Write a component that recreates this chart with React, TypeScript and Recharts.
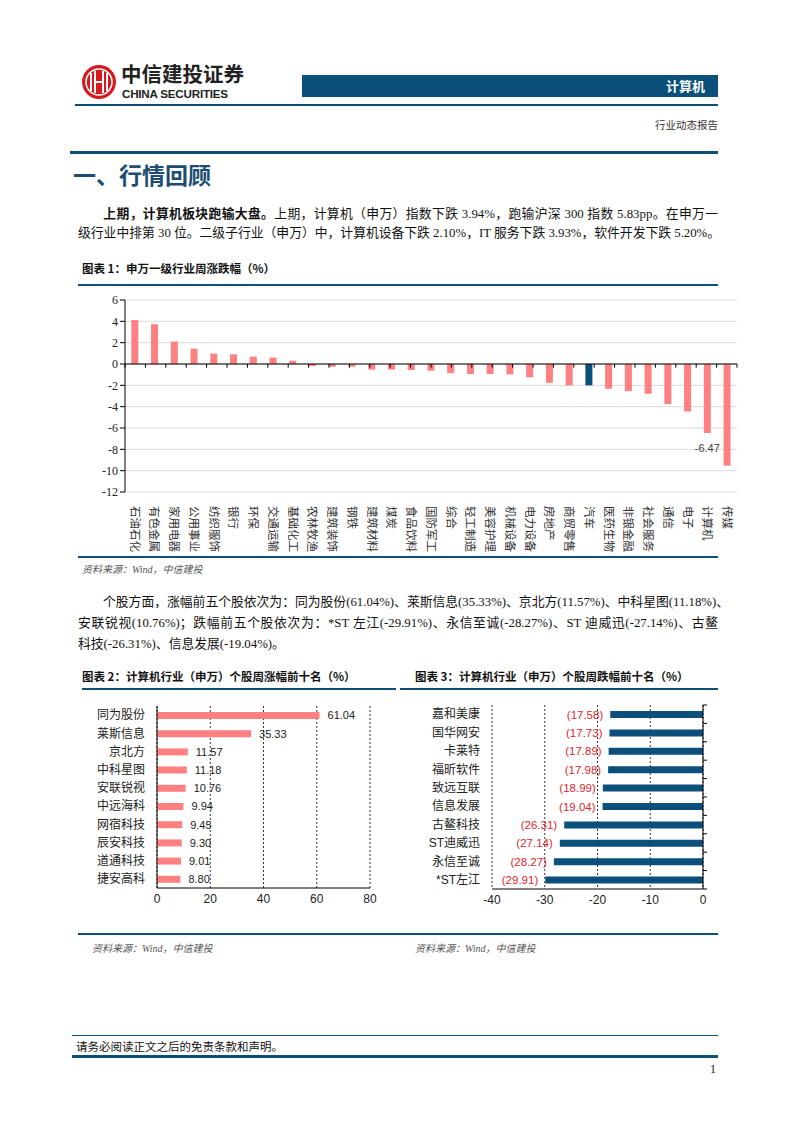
import React from 'react';
import { BarChart, Bar, XAxis, YAxis, CartesianGrid, ReferenceLine, LabelList, Cell } from 'recharts';

// 图表1：申万一级行业周涨跌幅
const industries = ['石油石化', '有色金属', '家用电器', '公用事业', '纺织服饰', '银行', '环保', '交通运输', '基础化工', '农林牧渔', '建筑装饰', '钢铁', '建筑材料', '煤炭', '食品饮料', '国防军工', '综合', '轻工制造', '美容护理', '机械设备', '电力设备', '房地产', '商贸零售', '汽车', '医药生物', '非银金融', '社会服务', '通信', '电子', '计算机', '传媒'];
const industryChange = [4.12, 3.73, 2.1, 1.44, 0.97, 0.91, 0.69, 0.6, 0.31, -0.19, -0.25, -0.25, -0.53, -0.53, -0.56, -0.63, -0.85, -0.94, -0.94, -0.97, -1.25, -1.76, -2.0, -2.0, -2.32, -2.54, -2.79, -3.76, -4.45, -6.47, -9.53];
const industryTicks = [6, 4, 2, 0, -2, -4, -6, -8, -10, -12];
const highlighted = '汽车';
const labelled = '计算机';

// 图表2：涨幅前十
const gainers = ['同为股份', '莱斯信息', '京北方', '中科星图', '安联锐视', '中远海科', '网宿科技', '辰安科技', '道通科技', '捷安高科'];
const gains = [61.04, 35.33, 11.57, 11.18, 10.76, 9.94, 9.45, 9.3, 9.01, 8.8];
const gainTicks = [0, 20, 40, 60, 80];

// 图表3：跌幅前十
const losers = ['嘉和美康', '国华网安', '卡莱特', '福昕软件', '致远互联', '信息发展', '古鳌科技', 'ST迪威迅', '永信至诚', '*ST左江'];
const losses = [-17.58, -17.73, -17.89, -17.98, -18.99, -19.04, -26.31, -27.14, -28.27, -29.91];
const lossTicks = [-40, -30, -20, -10, 0];

const industryData = industries.map((name, i) => ({ name, value: industryChange[i] }));
const gainData = gainers.map((name, i) => ({ name, value: gains[i] }));
const lossData = losers.map((name, i) => ({ name, value: losses[i] }));

const BLUE = '#0B4F7A';
const PINK = '#FF8080';
const SANS = '"Liberation Sans", "Noto Sans CJK SC", sans-serif';
const SERIF = '"Liberation Serif", "Noto Sans CJK SC", serif';
const CJK = '"Noto Sans CJK SC", sans-serif';

const abs = (l: number, t: number, extra: React.CSSProperties = {}): React.CSSProperties => ({ position: 'absolute', left: l, top: t, ...extra });

const IndustryTick = ({ x, y, payload }: any) => (
  <text
    x={x}
    y={y + 6}
    dy="0.36em"
    transform={`rotate(90, ${x}, ${y + 6})`}
    textAnchor="start"
    fontSize={11.5}
    fontFamily={CJK}
    fill="#333"
  >
    {payload.value}
  </text>
);

// short marks between the categories on the right-hand axis of chart 3
const BoundaryTick = ({ x, y, payload, index }: any) => {
  const half = payload.offset ?? 0;
  return (
    <g>
      <line x1={x} x2={x + 4} y1={y - half} y2={y - half} stroke="#000" />
      {index === losers.length - 1 && <line x1={x} x2={x + 4} y1={y + half} y2={y + half} stroke="#000" />}
    </g>
  );
};

const MarkedLabel = ({ x, y, width, height, value, index }: any) => {
  if (industries[index] !== labelled) return null;
  const bottom = Math.max(y, y + height);
  return (
    <text x={x + width / 2} y={bottom + 19} textAnchor="middle" fontSize={11} fontFamily={SANS} fill="#404040">
      {Number(value).toFixed(2)}
    </text>
  );
};

const LossLabel = ({ x, y, width, height, value }: any) => {
  const left = Math.min(x, x + width);
  return (
    <text x={left - 7} y={y + height / 2} dy="0.36em" textAnchor="end" fontSize={11.5} fontFamily={SANS} fill="#E2262B">
      ({Math.abs(value).toFixed(2)})
    </text>
  );
};

const boundaries = (n: number) => Array.from({ length: n + 1 }, (_, i) => i);

const Logo = () => (
  <svg width={36} height={36} viewBox="0 0 36 36" style={abs(81, 64)}>
    <circle cx={18} cy={18} r={17} fill="#D7191F" />
    <circle cx={18} cy={18} r={13} fill="none" stroke="#fff" strokeWidth={1.6} />
    <rect x={9} y={9} width={2} height={18} fill="#fff" />
    <rect x={13} y={7} width={2} height={22} fill="#fff" />
    <rect x={21} y={7} width={2} height={22} fill="#fff" />
    <rect x={25} y={9} width={2} height={18} fill="#fff" />
    <rect x={13} y={17} width={10} height={2} fill="#fff" />
  </svg>
);

const ChartTitle = ({ text, left, top }: { text: string; left: number; top: number }) => (
  <div style={abs(left, top, { fontFamily: CJK, fontWeight: 700, fontSize: 11.5, color: '#111', whiteSpace: 'nowrap' })}>{text}</div>
);

const Source = ({ left, top }: { left: number; top: number }) => (
  <div style={abs(left, top, { fontFamily: SERIF, fontStyle: 'italic', fontSize: 10, color: '#555', whiteSpace: 'nowrap' })}>
    资料来源：Wind，中信建投
  </div>
);

const Line = ({ left, top, width, h = 2, color = BLUE }: any) => (
  <div style={abs(left, top, { width, height: h, background: color })} />
);

const lineStyle: React.CSSProperties = {
  width: 640,
  whiteSpace: 'nowrap',
  textAlign: 'justify',
  textAlignLast: 'justify',
  height: 21,
  lineHeight: '21px',
};

export default function App() {
  return (
    <div style={{ position: 'absolute', left: 0, top: 0, width: 793, height: 1122, background: '#fff', fontFamily: SERIF, color: '#111' }}>
      {/* header */}
      <Logo />
      <div style={abs(121, 63, { fontFamily: CJK, fontWeight: 700, fontSize: 20.5, color: '#222', whiteSpace: 'nowrap', lineHeight: '20px', height: 20 })}>中信建投证券</div>
      <div style={abs(122, 88, { fontFamily: SANS, fontWeight: 700, fontSize: 11.6, color: '#222', whiteSpace: 'nowrap', lineHeight: '11px', letterSpacing: -0.2 })}>CHINA SECURITIES</div>
      <div style={abs(302, 75, { width: 416, height: 22, background: BLUE })} />
      <div style={abs(666, 77, { fontFamily: CJK, fontWeight: 700, fontSize: 13, color: '#fff', lineHeight: '18px' })}>计算机</div>
      <Line left={75} top={104} width={643} h={1.5} />
      <div style={abs(655, 118, { fontFamily: CJK, fontSize: 10.5, color: '#333', lineHeight: '14px' })}>行业动态报告</div>

      {/* section */}
      <Line left={70} top={151} width={648} h={2.5} />
      <div style={abs(73, 159, { fontFamily: CJK, fontWeight: 700, fontSize: 23, color: '#1B4D72', lineHeight: '30px', whiteSpace: 'nowrap' })}>一、行情回顾</div>
      <div style={abs(78, 202, { fontSize: 12.8 })}>
        <div style={lineStyle}>
          <span style={{ display: 'inline-block', width: 25 }} />
          <b style={{ fontFamily: CJK }}>上期，计算机板块跑输大盘。</b>上期，计算机（申万）指数下跌 3.94%，跑输沪深 300 指数 5.83pp。在申万一
        </div>
        <div style={lineStyle}>级行业中排第 30 位。二级子行业（申万）中，计算机设备下跌 2.10%，IT 服务下跌 3.93%，软件开发下跌 5.20%。</div>
      </div>

      {/* chart 1 */}
      <ChartTitle text="图表 1：申万一级行业周涨跌幅（%）" left={82} top={260} />
      <Line left={78} top={284} width={640} h={2} />
      <div style={abs(78, 290)}>
        <BarChart width={660} height={262} data={industryData} margin={{ top: 10, right: 1, bottom: 0, left: 0 }} barCategoryGap="32%">
          <CartesianGrid vertical={false} stroke="#D9D9D9" />
          <XAxis dataKey="name" interval={0} axisLine={false} tickLine={false} height={60} tick={<IndustryTick />} />
          <XAxis xAxisId="n" type="number" domain={[0, industries.length]} hide />
          <YAxis
            domain={[-12, 6]}
            ticks={industryTicks}
            width={47}
            axisLine={{ stroke: '#000' }}
            tickLine={{ stroke: '#000' }}
            tickSize={5}
            tick={{ fontSize: 12, fontFamily: SERIF, fill: '#222' }}
            interval={0}
          />
          <Bar dataKey="value" isAnimationActive={false}>
            {industryData.map((d) => (
              <Cell key={d.name} fill={d.name === highlighted ? BLUE : PINK} />
            ))}
            <LabelList dataKey="value" content={<MarkedLabel />} />
          </Bar>
          <ReferenceLine y={0} stroke="#000" />
          {boundaries(industries.length).map((i) => (
            <ReferenceLine
              key={i}
              xAxisId="n"
              segment={[{ x: i, y: 0 }, { x: i, y: -0.35 }]}
              stroke="#000"
              ifOverflow="visible"
            />
          ))}
        </BarChart>
      </div>
      <Line left={78} top={556} width={640} h={2} />
      <Source left={82} top={561} />

      {/* paragraph 2 */}
      <div style={abs(78, 592, { fontSize: 12.8 })}>
        <div style={lineStyle}>
          <span style={{ display: 'inline-block', width: 25 }} />
          个股方面，涨幅前五个股依次为：同为股份(61.04%)、莱斯信息(35.33%)、京北方(11.57%)、中科星图(11.18%)、
        </div>
        <div style={lineStyle}>安联锐视(10.76%)；跌幅前五个股依次为：*ST 左江(-29.91%)、永信至诚(-28.27%)、ST 迪威迅(-27.14%)、古鳌</div>
        <div style={{ ...lineStyle, textAlign: 'left', textAlignLast: 'left' }}>科技(-26.31%)、信息发展(-19.04%)。</div>
      </div>

      {/* chart 2 */}
      <ChartTitle text="图表 2：计算机行业（申万）个股周涨幅前十名（%）" left={82} top={668} />
      <Line left={82} top={688} width={314} h={2} />
      <div style={abs(78, 695)}>
        <BarChart layout="vertical" width={330} height={218} data={gainData} margin={{ top: 11, right: 38, bottom: 0, left: 0 }}>
          <CartesianGrid horizontal={false} stroke="#333" strokeDasharray="2 2" />
          <XAxis
            type="number"
            domain={[0, 80]}
            ticks={gainTicks}
            interval={0}
            height={25}
            axisLine={{ stroke: '#000' }}
            tickLine={false}
            tickSize={4}
            tick={{ fontSize: 12, fontFamily: SANS, fill: '#222' }}
          />
          <YAxis
            type="category"
            dataKey="name"
            width={79}
            interval={0}
            axisLine={{ stroke: '#000' }}
            tickLine={false}
            tickMargin={6}
            tick={{ fontSize: 12, fontFamily: CJK, fill: '#222' }}
          />
          <Bar dataKey="value" fill={PINK} barSize={7} isAnimationActive={false}>
            <LabelList
              dataKey="value"
              position="right"
              offset={8}
              formatter={(v: any) => Number(v).toFixed(2)}
              style={{ fontSize: 11, fontFamily: SANS, fill: '#222' }}
            />
          </Bar>
        </BarChart>
      </div>

      {/* chart 3 */}
      <ChartTitle text="图表 3：计算机行业（申万）个股周跌幅前十名（%）" left={415} top={668} />
      <Line left={400} top={688} width={318} h={2} />
      <div style={abs(412, 694)}>
        <BarChart layout="vertical" width={310} height={220} data={lossData} margin={{ top: 11, right: 11, bottom: 0, left: 0 }}>
          <CartesianGrid horizontal={false} stroke="#333" strokeDasharray="2 2" />
          <XAxis
            type="number"
            domain={[-40, 0]}
            ticks={lossTicks}
            interval={0}
            height={25}
            axisLine={{ stroke: '#000' }}
            tickLine={false}
            tickSize={4}
            tick={{ fontSize: 12, fontFamily: SANS, fill: '#222' }}
          />
          <YAxis
            type="category"
            dataKey="name"
            width={80}
            interval={0}
            axisLine={false}
            tickLine={false}
            tickMargin={6}
            tick={{ fontSize: 12, fontFamily: SANS, fill: '#222' }}
          />
          <YAxis
            yAxisId="r"
            type="category"
            dataKey="name"
            orientation="right"
            width={8}
            interval={0}
            axisLine={false}
            tickLine={false}
            tickSize={0}
            tickMargin={0}
            tick={<BoundaryTick />}
          />
          <Bar dataKey="value" fill={BLUE} barSize={7} isAnimationActive={false}>
            <LabelList dataKey="value" content={<LossLabel />} />
          </Bar>
          <ReferenceLine x={0} stroke="#000" />
        </BarChart>
      </div>
      <Line left={78} top={933} width={640} h={2} />
      <Source left={92} top={940} />
      <Source left={415} top={940} />

      {/* footer */}
      <Line left={72} top={1035} width={646} h={1} />
      <div style={abs(76, 1039, { fontFamily: CJK, fontSize: 11.5, color: '#111', lineHeight: '15px' })}>请务必阅读正文之后的免责条款和声明。</div>
      <Line left={72} top={1055} width={646} h={3} />
      <div style={abs(710, 1062, { fontFamily: SERIF, fontSize: 12, color: '#111' })}>1</div>
    </div>
  );
}
